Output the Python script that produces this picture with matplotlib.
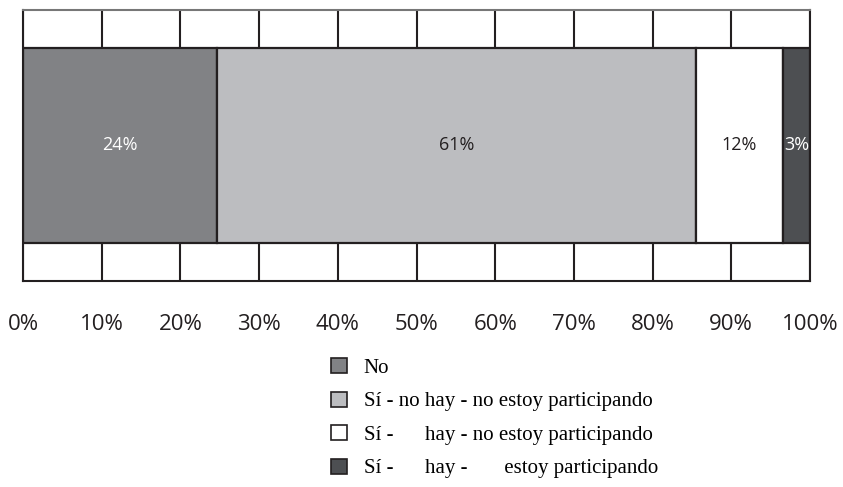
import matplotlib
matplotlib.use("Agg")
import matplotlib.pyplot as plt
from matplotlib.patches import Patch

categories = ["No", "Sí - no hay - no estoy participando",
              "Sí -      hay - no estoy participando",
              "Sí -      hay -       estoy participando"]
values = [24.6, 60.9, 11.1, 3.4]
bar_labels = ["24%", "61%", "12%", "3%"]
colors = ["#818285", "#bcbdc0", "#ffffff", "#4d4f52"]
label_colors = ["#ffffff", "#231f20", "#231f20", "#ffffff"]
ticks = list(range(0, 101, 10))
tick_labels = [f"{t}%" for t in ticks]

edge = "#231f20"
fig = plt.figure(figsize=(8.43, 4.87), dpi=100)
ax = fig.add_axes([23/843, 1-281/487, 787/843, 271/487])
ax.set_xlim(0, 100)
ax.set_ylim(0, 1)

for t in ticks:
    ax.axvline(t, color=edge, lw=1.5, zorder=1)

left = 0
for v, c, lab, lc in zip(values, colors, bar_labels, label_colors):
    ax.barh(0.5, v, left=left, height=0.72, color=c, edgecolor=edge,
            linewidth=1.6, zorder=2)
    ax.text(left + v/2, 0.5, lab, ha="center", va="center", color=lc,
            fontsize=13, family=["Open Sans", "DejaVu Sans"], zorder=3)
    left += v

for s in ["left", "right", "bottom"]:
    ax.spines[s].set_color(edge)
    ax.spines[s].set_linewidth(1.5)
ax.spines["top"].set_color("#777777")
ax.spines["top"].set_linewidth(1.5)
ax.set_yticks([])
ax.set_xticks(ticks)
ax.set_xticklabels(tick_labels, family=["Open Sans", "DejaVu Sans"],
                   fontsize=16, color="#231f20")
ax.tick_params(axis="x", length=0, pad=24)

handles = [Patch(facecolor=c, edgecolor=edge, linewidth=1.2) for c in colors]
fig.legend(handles, categories, loc="upper left",
           bbox_to_anchor=(331/843, 1-358/487), frameon=False,
           prop={"family": "Liberation Serif", "size": 15},
           handlelength=0.76, handleheight=0.76, handletextpad=0.8,
           labelspacing=0.65, borderpad=0, borderaxespad=0)

fig.savefig("out.png", dpi=100, facecolor="white")
